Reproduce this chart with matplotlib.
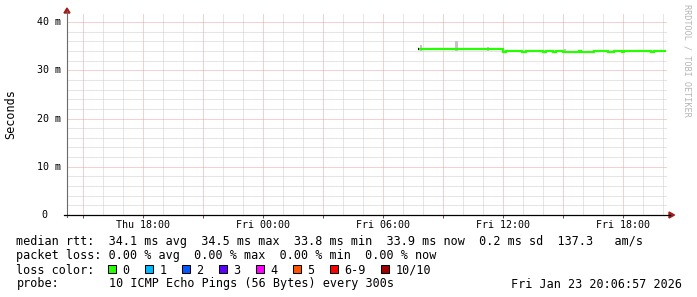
#!/usr/bin/env python3
"""
SmokePing style latency graph (last 30 hours), rebuilt with matplotlib.
x values are hours counted from Thu 00:00, y values are milliseconds.
"""
import matplotlib
matplotlib.use("Agg")
import matplotlib.pyplot as plt
from matplotlib.lines import Line2D
from matplotlib.patches import Polygon, Rectangle
from matplotlib import transforms

# median rtt, step series (edges in hours since Thu 00:00, value in ms)
MEDIAN_EDGES = [31.74, 35.99, 36.14, 36.94, 37.14, 37.99, 38.14, 38.49, 38.64,
                38.99, 39.79, 39.89, 40.54, 41.24, 41.54, 41.94, 42.04, 43.39,
                43.54, 44.14]
MEDIAN_MS = [34.45, 33.80, 33.95, 33.80, 33.95, 33.80, 33.95, 33.80, 33.95,
             33.80, 33.95, 33.80, 33.95, 33.80, 33.95, 33.80, 33.95, 33.80,
             33.95]

# smoke (spread of the single pings) where it shows above the median
SMOKE_T = [31.89, 33.66, 35.24, 39.09]
SMOKE_LO = [34.0, 34.0, 34.0, 33.6]
SMOKE_HI = [35.2, 36.1, 34.8, 34.4]

# axis
X_RANGE = (14.18, 44.18)
Y_TOP = 41.66
X_MAJOR = [15, 18, 21, 24, 27, 30, 33, 36, 39, 42]
X_LABELS = ["", "Thu 18:00", "", "Fri 00:00", "", "Fri 06:00", "",
            "Fri 12:00", "", "Fri 18:00"]
Y_MAJOR = [0, 10, 20, 30, 40]
Y_LABELS = ["0", "10 m", "20 m", "30 m", "40 m"]

# legend
RTT_STATS = [34.1, 34.5, 33.8, 33.9]
RTT_SD = 0.2
RTT_AMS = 137.3
LOSS_STATS = [0.00, 0.00, 0.00, 0.00]
LOSS_LABELS = ["0", "1", "2", "3", "4", "5", "6-9", "10/10"]
LOSS_COLORS = ["#26ff00", "#00b8ff", "#0059ff", "#5e00ff", "#ff00ff",
               "#ff5500", "#ff0000", "#a10000"]
PROBE = "10 ICMP Echo Pings (56 Bytes) every 300s"
STAMP = "Fri Jan 23 20:06:57 2026"

W, H = 697, 297
MONO = "DejaVu Sans Mono"
CW = 7.1  # legend char width in px


def fx(x):
    return x / W


def fy(y):
    return 1 - y / H


def main():
    fig = plt.figure(figsize=(W / 100, H / 100), dpi=100)
    fig.patch.set_facecolor("white")
    ax = fig.add_axes([fx(67), fy(215), 600 / W, 201 / H])
    ax.set_xlim(*X_RANGE)
    ax.set_ylim(0, Y_TOP)
    for s in ax.spines.values():
        s.set_visible(False)

    # grid (dotted, 1px on / 1px off)
    ax.set_xticks(X_MAJOR)
    ax.set_xticks([h for h in range(15, 45)], minor=True)
    ax.set_yticks(Y_MAJOR)
    ax.set_yticks(list(range(0, 42, 2)), minor=True)
    ax.grid(which="minor", color="#cdcdcd", lw=0.72, ls=(0, (1, 1)))
    ax.grid(which="major", color="#e8a4a4", lw=0.72, ls=(0, (1, 1)))
    ax.set_axisbelow(True)
    ax.tick_params(which="minor", length=0)
    ax.tick_params(axis="x", which="major", length=2.5, width=0.72,
                   color="#555555", direction="out", pad=1.2)
    ax.tick_params(axis="y", which="major", length=0, labelleft=False)
    ax.set_xticklabels(X_LABELS, family=MONO, fontsize=7.2)

    # y labels, rrdtool style
    tr = transforms.blended_transform_factory(fig.transFigure, ax.transData)
    for v, lab in zip(Y_MAJOR, Y_LABELS):
        if " " in lab:
            ax.text(fx(60.5), v, lab, transform=tr, ha="right", va="center",
                    family=MONO, fontsize=7.2)
        else:
            ax.text(fx(44), v, lab, transform=tr, ha="center", va="center",
                    family=MONO, fontsize=7.2)

    # smoke + median
    for t, lo, hi in zip(SMOKE_T, SMOKE_LO, SMOKE_HI):
        ax.bar(t, hi - lo, bottom=lo, width=0.12, color="#c4c4c4", lw=0)
    ax.stairs(MEDIAN_MS, MEDIAN_EDGES, baseline=None, color="#26ff00",
              lw=1.6)
    ax.plot([MEDIAN_EDGES[0], MEDIAN_EDGES[0] + 0.04],
            [MEDIAN_MS[0], MEDIAN_MS[0]], color="black", lw=1.6,
            solid_capstyle="butt")

    # axis lines and arrows
    fig.add_artist(Line2D([fx(67), fx(67)], [fy(217), fy(11)],
                          color="#6a6a6a", lw=0.8))
    fig.add_artist(Line2D([fx(64), fx(670)], [fy(215), fy(215)],
                          color="black", lw=0.9))
    fig.add_artist(Polygon([[fx(67), fy(8)], [fx(64), fy(13)],
                            [fx(70), fy(13)]], closed=True,
                           color="#a31a1a", transform=fig.transFigure))
    fig.add_artist(Polygon([[fx(674.5), fy(215)], [fx(669), fy(212)],
                            [fx(669), fy(218)]], closed=True,
                           color="#a31a1a", transform=fig.transFigure))

    fig.text(fx(11), fy(114.5), "Seconds", rotation=90, ha="center",
             va="center", family=MONO, fontsize=8.5)
    fig.text(fx(687.5), fy(4), "RRDTOOL / TOBI OETIKER", rotation=270,
             ha="center", va="top", family=MONO, fontsize=6.1,
             color="#b5b5b5")

    # legend block
    x0 = 16.5
    a, mx, mn, now = RTT_STATS
    rtt = (f"median rtt:  {a:.1f} ms avg  {mx:.1f} ms max  {mn:.1f} ms min"
           f"  {now:.1f} ms now  {RTT_SD:.1f} ms sd  {RTT_AMS:.1f}   am/s")
    la, lmx, lmn, lnow = LOSS_STATS
    loss = (f"packet loss: {la:.2f} % avg  {lmx:.2f} % max  {lmn:.2f} % min"
            f"  {lnow:.2f} % now")
    kw = dict(family=MONO, fontsize=8.5, va="baseline", ha="left")
    fig.text(fx(x0), fy(245.5), rtt, **kw)
    fig.text(fx(x0), fy(259.5), loss, **kw)
    fig.text(fx(x0), fy(273.5), "loss color:", **kw)
    fig.text(fx(x0), fy(287.5), "probe:", **kw)
    fig.text(fx(x0 + 13 * CW), fy(287.5), PROBE, **kw)
    fig.text(fx(682), fy(287.5), STAMP, family=MONO, fontsize=8.5,
             va="baseline", ha="right")

    bx = 108.0
    for lab, col in zip(LOSS_LABELS, LOSS_COLORS):
        fig.add_artist(Rectangle((fx(bx), fy(273)), 8 / W, 8 / H,
                                 facecolor=col, edgecolor="black", lw=0.75,
                                 transform=fig.transFigure))
        fig.text(fx(bx + 14.5), fy(273.5), lab, **kw)
        bx += 14.5 + len(lab) * CW + 15.4

    fig.savefig("out.png", dpi=100, facecolor="white")


if __name__ == "__main__":
    main()
